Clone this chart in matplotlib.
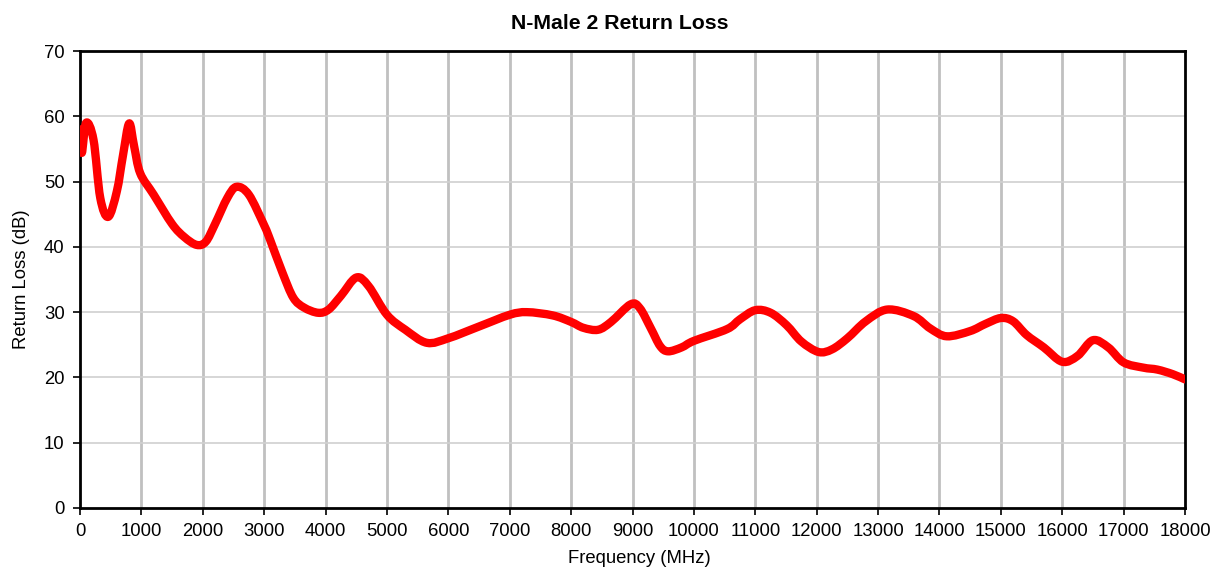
import matplotlib
matplotlib.use("Agg")
import matplotlib.pyplot as plt
from matplotlib.path import Path
from matplotlib.patches import PathPatch

freq_mhz = [0, 30, 100, 220, 330, 460, 600, 700, 800, 880, 980, 1200, 1500, 1700, 1900, 2050,
            2200, 2400, 2550, 2750, 3000, 3100, 3300, 3475, 3650, 3880, 4050, 4250, 4500, 4700,
            5000, 5300, 5650, 6000, 6500, 7000, 7280, 7700, 8000, 8200, 8440, 8650, 8970, 9120,
            9300, 9450, 9580, 9800, 10000, 10540, 10750, 11000, 11250, 11510, 11750, 12030,
            12250, 12500, 12800, 13150, 13580, 13850, 14120, 14500, 14750, 15000, 15200, 15420,
            15700, 16000, 16250, 16500, 16750, 17000, 17320, 17550, 17800, 18000]
return_loss_db = [58.0, 54.4, 59.0, 56.4, 47.5, 44.6, 48.5, 54.0, 58.9, 55.5, 51.3, 48.0, 43.5, 41.5,
                  40.3, 40.8, 43.5, 47.5, 49.2, 48.0, 43.3, 41.0, 36.0, 32.2, 30.7, 29.9, 30.4, 32.5,
                  35.3, 34.0, 29.6, 27.3, 25.3, 26.0, 27.8, 29.6, 30.0, 29.5, 28.5, 27.6, 27.3, 28.5,
                  31.2, 30.6, 27.5, 24.8, 24.0, 24.6, 25.6, 27.4, 28.9, 30.3, 29.9, 28.0, 25.5, 23.9,
                  24.3, 26.0, 28.6, 30.4, 29.4, 27.5, 26.3, 27.1, 28.2, 29.1, 28.6, 26.5, 24.6, 22.4,
                  23.3, 25.7, 24.6, 22.3, 21.5, 21.2, 20.5, 19.7]

x_ticks = list(range(0, 18001, 1000))
y_ticks = list(range(0, 71, 10))

plt.rcParams['font.family'] = ['Liberation Sans', 'DejaVu Sans']

fig = plt.figure(figsize=(12.15, 5.79), dpi=100)
ax = fig.add_axes([80/1215, 1-508/579, 1105/1215, 457/579])

for xt in x_ticks[1:-1]:
    ax.axvline(xt, color='#c0c0c0', lw=2.0, zorder=1)
for yt in y_ticks[1:-1]:
    ax.axhline(yt, color='#d0d0d0', lw=1.2, zorder=1)

# Smoothed line (Excel-style): Bezier segments through the data points, drawn by matplotlib's Path
pts = list(zip(freq_mhz, return_loss_db))
verts = [pts[0]]
codes = [Path.MOVETO]
n = len(pts)
for i in range(n - 1):
    p0 = pts[i - 1] if i > 0 else pts[i]
    p1 = pts[i]
    p2 = pts[i + 1]
    p3 = pts[i + 2] if i + 2 < n else pts[i + 1]
    c1 = (p1[0] + (p2[0] - p0[0]) / 6, p1[1] + (p2[1] - p0[1]) / 6)
    c2 = (p2[0] - (p3[0] - p1[0]) / 6, p2[1] - (p3[1] - p1[1]) / 6)
    verts += [c1, c2, p2]
    codes += [Path.CURVE4, Path.CURVE4, Path.CURVE4]
patch = PathPatch(Path(verts, codes), facecolor='none', edgecolor='#ff0000', lw=6,
                  capstyle='round', joinstyle='round', zorder=3)
ax.add_patch(patch)

ax.set_xlim(0, 18000)
ax.set_ylim(0, 70)
ax.set_xticks(x_ticks)
ax.set_yticks(y_ticks)
ax.tick_params(axis='both', direction='out', length=5, width=1.2, labelsize=13.3, colors='black', pad=6)
for s in ax.spines.values():
    s.set_linewidth(2.0)
    s.set_color('black')

ax.set_xlabel('Frequency (MHz)', fontsize=13.3, labelpad=7)
ax.xaxis.label.set_x(0.5 + 7/1105)
ax.set_ylabel('Return Loss (dB)', fontsize=13.3, labelpad=10)
ax.set_title('N-Male 2 Return Loss', fontsize=15.3, fontweight='bold', pad=16)
ax.title.set_x(0.5 - 13/1105)

fig.savefig('out.png', dpi=100)
